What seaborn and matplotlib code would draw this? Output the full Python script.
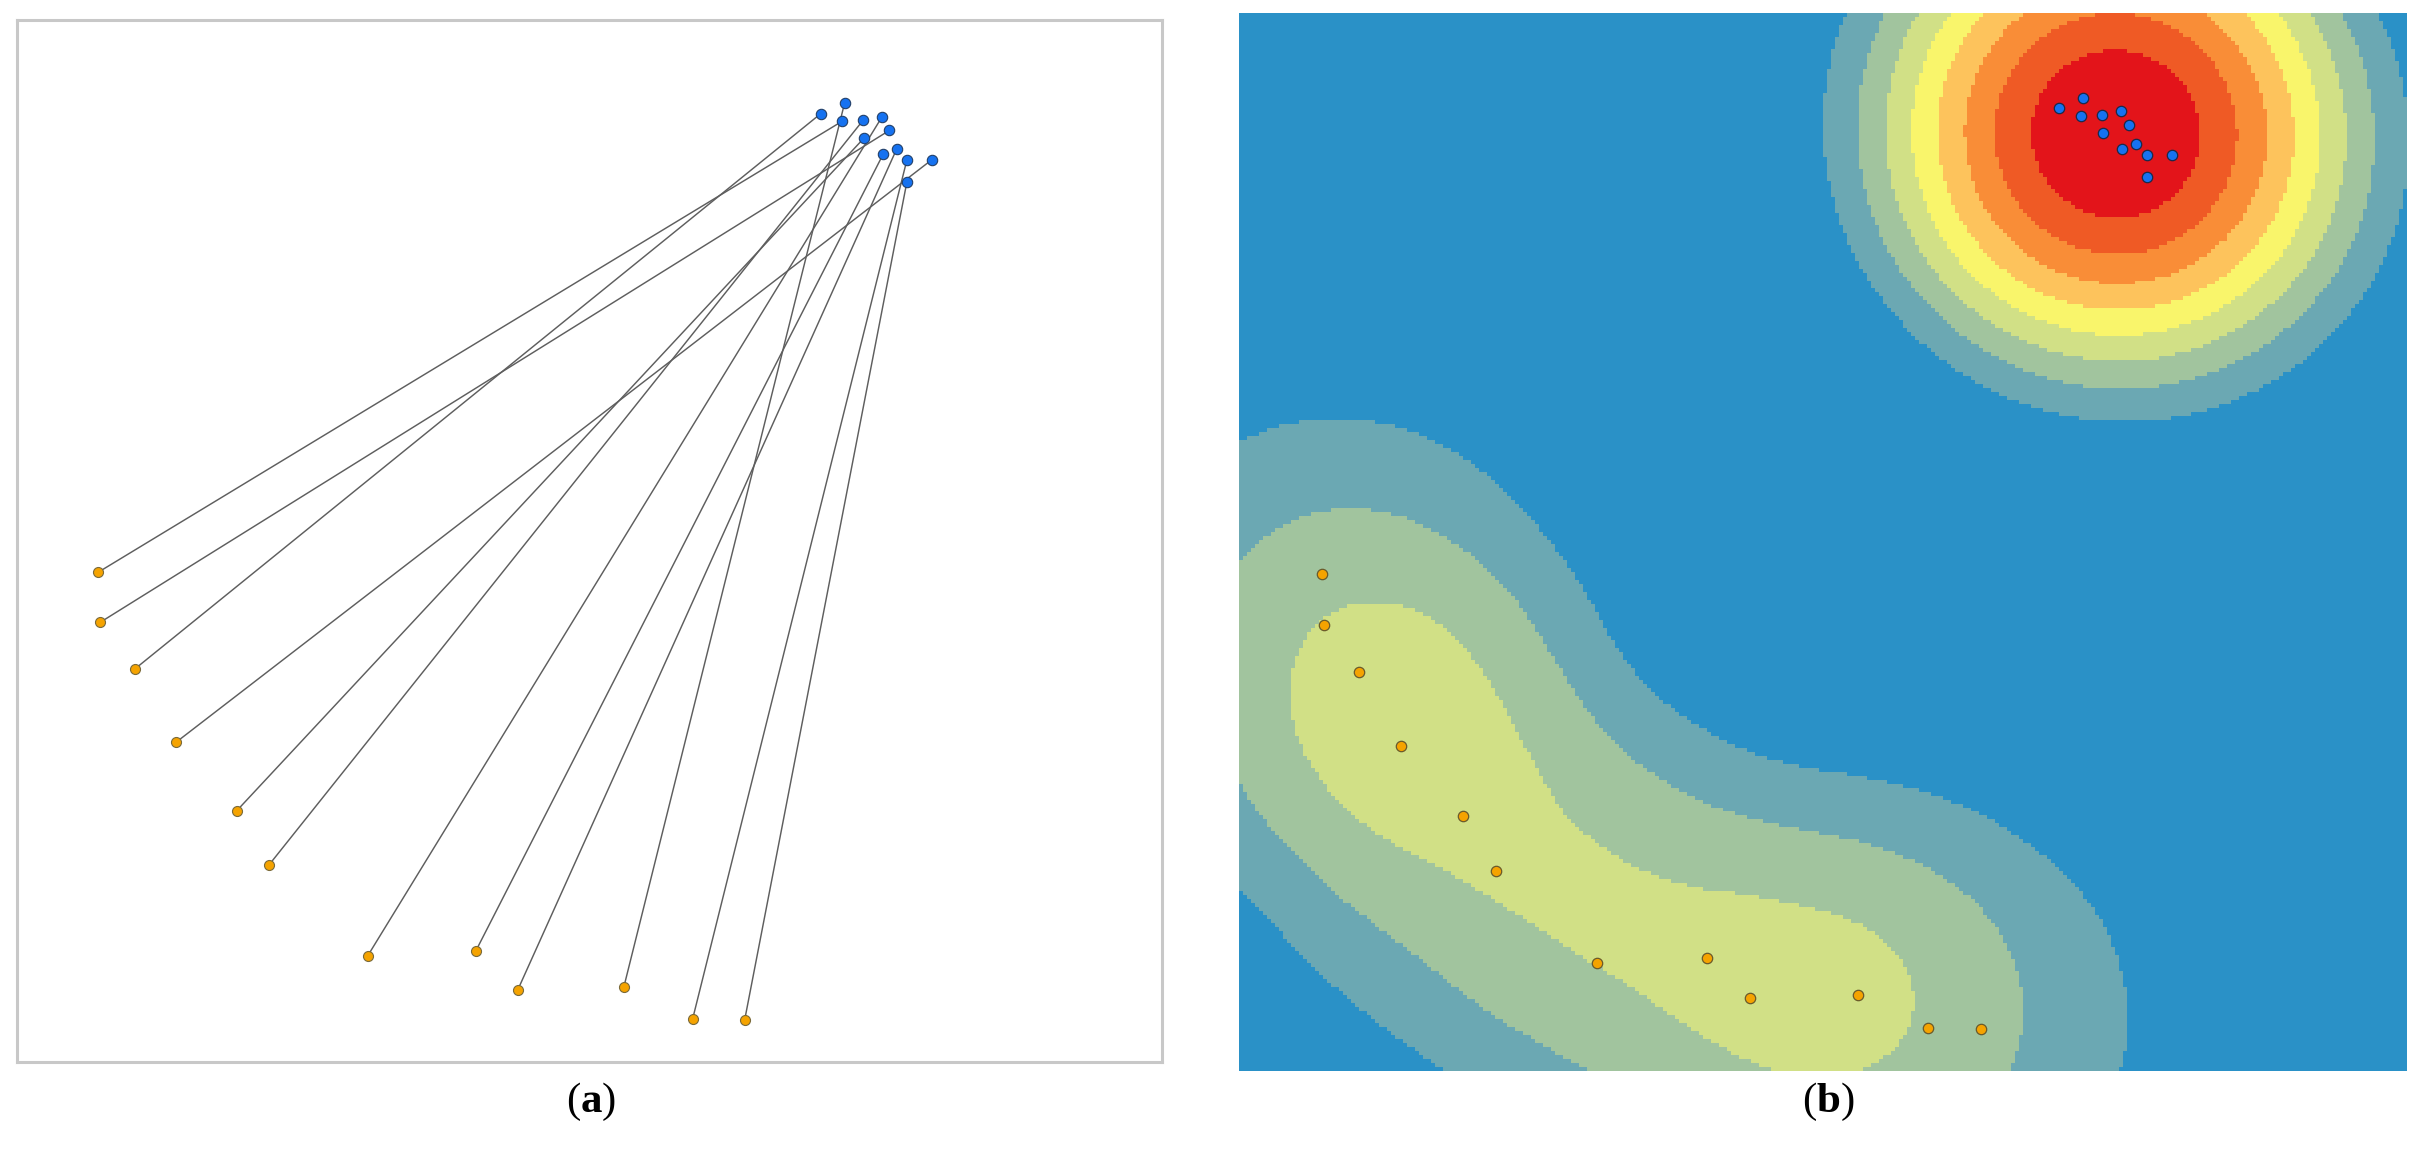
import numpy as np
import pandas as pd
import matplotlib.pyplot as plt
from matplotlib.colors import ListedColormap, BoundaryNorm
import seaborn as sns

sns.set_style("white")
plt.rcParams['font.family'] = ['Liberation Serif', 'DejaVu Serif']
plt.rcParams['mathtext.fontset'] = 'custom'
plt.rcParams['mathtext.rm'] = 'Liberation Serif'
plt.rcParams['mathtext.bf'] = 'Liberation Serif:bold'

# destination points (blue)
dest_x = [77.2, 79.5, 79.3, 81.3, 83.1, 83.8, 81.4, 83.2, 84.5, 85.5, 87.9, 85.5]
dest_y = [91.0, 92.0, 90.3, 90.4, 90.7, 89.4, 88.7, 87.1, 87.6, 86.6, 86.6, 84.5]
# origin points (orange)
orig_x = [7.8, 8.0, 11.3, 15.3, 21.1, 24.2, 33.7, 44.1, 48.1, 58.3, 64.9, 69.9]
orig_y = [47.0, 42.2, 37.7, 30.7, 24.1, 18.9, 10.2, 10.7, 6.9, 7.2, 4.1, 4.0]
# index of the blue point each orange point is linked to
link = [2, 5, 0, 10, 6, 3, 4, 7, 8, 1, 9, 11]

panel_labels = ['a', 'b']
class_colors = ['#2A91C7', '#6BA8B3', '#A1C49E', '#D1E086', '#F9F56B',
                '#FDC35C', '#F98D37', '#EF5A25', '#E3141A']
radius = 33.2   # kernel search radius, map units

dest = pd.DataFrame({'x': dest_x, 'y': dest_y})
orig = pd.DataFrame({'x': orig_x, 'y': orig_y})

fig = plt.figure(figsize=(24.2, 11.67), dpi=100)
ax1 = fig.add_axes([17 / 2420, 1 - 1062 / 1167, 1145 / 2420, 1042 / 1167])
ax2 = fig.add_axes([1239 / 2420, 1 - 1071 / 1167, 1168 / 2420, 1058 / 1167])

# (a) origin-destination links
for i, j in enumerate(link):
    ax1.plot([orig_x[i], dest_x[j]], [orig_y[i], dest_y[j]],
             color='#5e5e5e', lw=1.05, zorder=1)
sns.scatterplot(data=orig, x='x', y='y', ax=ax1, color='#F5A300', s=52,
                edgecolor='#7a6a3a', linewidth=0.8, zorder=3)
sns.scatterplot(data=dest, x='x', y='y', ax=ax1, color='#1672F0', s=56,
                edgecolor='#22406a', linewidth=0.8, zorder=3)
ax1.set_xlim(0, 110)
ax1.set_ylim(0, 100)
for sp in ax1.spines.values():
    sp.set_color('#c8c8c8')
    sp.set_linewidth(2.2)

# (b) kernel density (quartic kernel), equal-interval classes
xs = np.linspace(0, 110, 292)
ys = np.linspace(0, 100, 265)
gx, gy = np.meshgrid(xs, ys)
px = np.array(orig_x + dest_x)
py = np.array(orig_y + dest_y)
d2 = (gx[..., None] - px) ** 2 + (gy[..., None] - py) ** 2
dens = (np.clip(1 - d2 / radius ** 2, 0, None) ** 2).sum(-1)
top = dens.max()
bounds = [-1] + [top * k / 9 for k in range(1, 9)] + [top * 1.01]
cmap = ListedColormap(class_colors)
norm = BoundaryNorm(bounds, cmap.N)
ax2.imshow(dens, origin='lower', extent=(0, 110, 0, 100), cmap=cmap,
           norm=norm, interpolation='nearest', aspect='auto', zorder=0)
sns.scatterplot(data=orig, x='x', y='y', ax=ax2, color='#F5A300', s=56,
                edgecolor='#6a5a2a', linewidth=0.9, zorder=3)
sns.scatterplot(data=dest, x='x', y='y', ax=ax2, color='#1672F0', s=56,
                edgecolor='#1a2a4a', linewidth=0.9, zorder=3)
ax2.set_xlim(0, 110)
ax2.set_ylim(0, 100)
for sp in ax2.spines.values():
    sp.set_visible(False)

for ax in (ax1, ax2):
    ax.set_xticks([])
    ax.set_yticks([])
    ax.set_xlabel('')
    ax.set_ylabel('')

fig.text(591 / 2420, 1 - 1102 / 1167, '($\\mathbf{%s}$)' % panel_labels[0],
         ha='center', va='center', fontsize=31, color='black')
fig.text(1828 / 2420, 1 - 1102 / 1167, '($\\mathbf{%s}$)' % panel_labels[1],
         ha='center', va='center', fontsize=31, color='black')

fig.savefig('out.png', dpi=100)
